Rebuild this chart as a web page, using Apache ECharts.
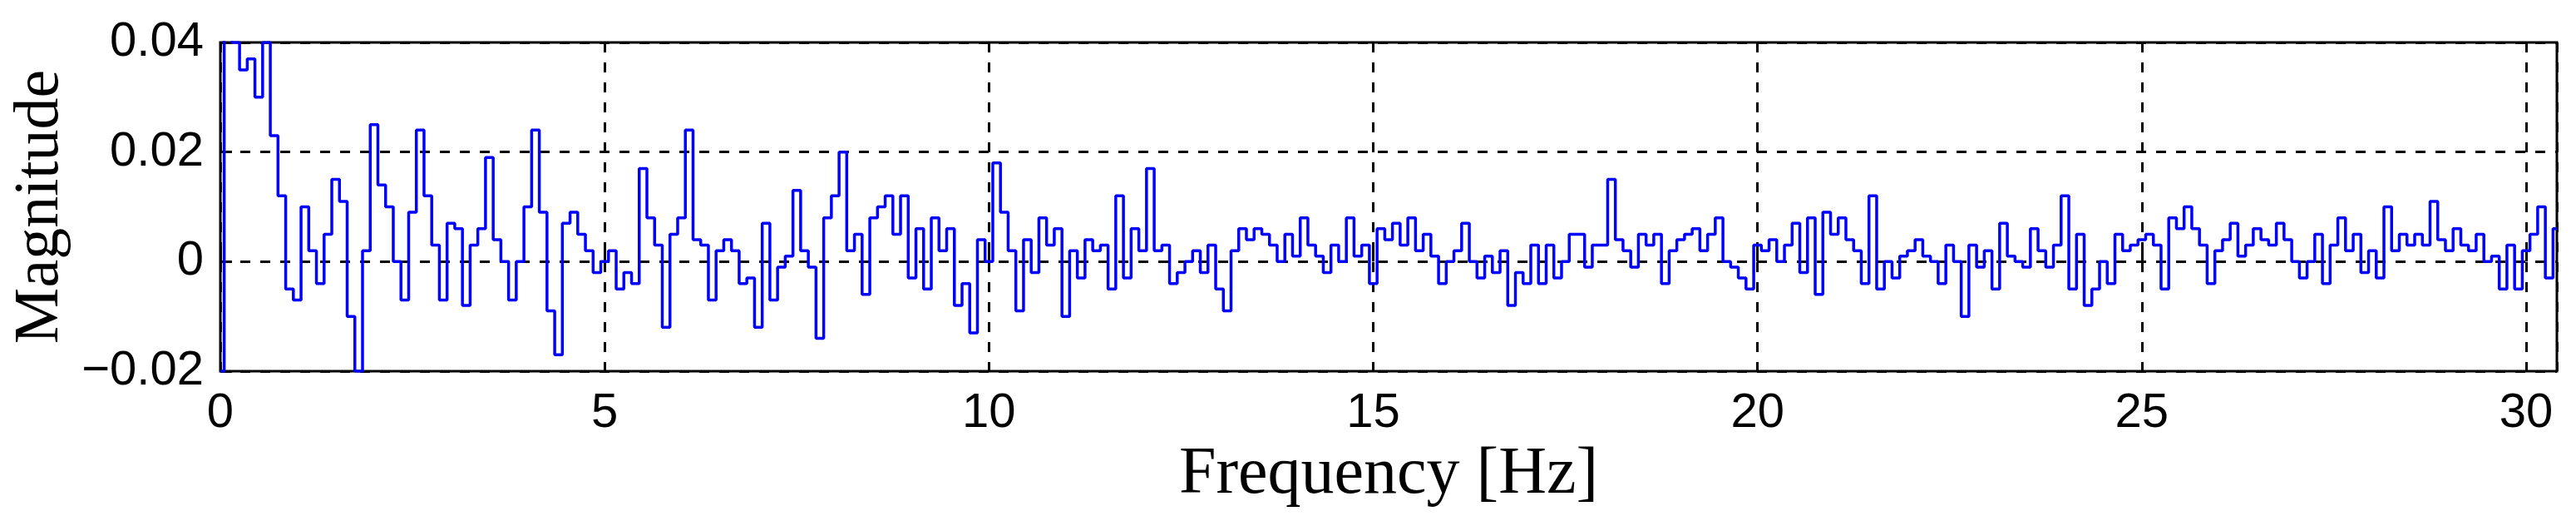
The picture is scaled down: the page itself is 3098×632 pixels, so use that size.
<!DOCTYPE html>
<html><head><meta charset="utf-8">
<script src="https://cdn.jsdelivr.net/npm/echarts@6/dist/echarts.min.js"></script>
<style>html,body{margin:0;padding:0;background:#fff}#c{width:3098px;height:632px}</style>
</head><body><div id="c"></div>
<script>
// magnitudes in units of 0.001, sampled every 0.1 Hz
const freqStep = 0.1;
const mag_0_5 = [-20,45,40,35,37,30,40,23,12,-5, -7,10,2,-4,5,15,11,-10,-20,2, 25,14,10,0,-7,9,24,12,3,-7, 7,6,-8,3,6,19,4,0,-7,0, 10,24,9,-9,-17,7,9,5,2,-2];
const mag_5_10 = [0,2,-5,-2,-4,17,8,3,-12,5, 8,24,4,3,-7,2,4,2,-4,-3, -12,7,-7,-1,1,13,2,-1,-14,8, 12,20,2,5,-6,8,10,12,5,12, -3,6,-5,8,2,6,-8,-4,-13,4];
const mag_10_15 = [0,18,9,2,-9,4,-2,8,3,6, -10,2,-3,4,2,3,-5,12,-3,6, 2,17,2,3,-4,-2,0,2,-2,3, -5,-9,2,6,4,6,5,3,0,5, 1,8,3,1,-2,3,0,8,1,3];
const mag_15_20 = [-4,6,4,7,3,8,2,5,1,-4, 0,2,7,0,-3,1,-2,2,-8,-2, -4,3,-4,3,-3,0,5,5,-1,3, 3,15,4,2,-1,5,3,5,-4,2, 4,5,6,2,5,8,0,-1,-3,-5];
const mag_20_25 = [3,2,4,0,3,7,-2,8,-6,9, 5,8,4,2,-4,12,-5,0,-3,1, 2,4,1,0,-4,3,0,-10,3,-1, 2,-5,7,1,0,-1,6,2,-1,3, 12,-5,5,-8,-5,0,-4,5,2,3];
const mag_25_305 = [4,5,3,-5,8,6,10,6,3,-4, 2,4,7,1,3,6,4,3,7,4, 0,-3,0,5,-4,3,8,2,5,-2, 2,-3,10,2,5,3,5,3,11,4, 2,6,3,2,5,0,1,-5,3,-5, 2,5,10,-3,6];
const xTicks = [0,5,10,15,20,25,30];
const yTicks = [-0.02,0,0.02,0.04];

const mags = [].concat(mag_0_5, mag_5_10, mag_10_15, mag_15_20, mag_20_25, mag_25_305);
const data = mags.map((v,i)=>[+(i*freqStep).toFixed(1), v/1000]);

const chart = echarts.init(document.getElementById('c'));
const tickFont = {fontFamily:'Liberation Sans', fontSize:58, color:'#000'};
chart.setOption({
  animation:false,
  grid:{left:265,right:23,top:51,bottom:186,show:true,borderColor:'#000',borderWidth:3,backgroundColor:'transparent'},
  xAxis:{type:'value',min:0,max:30.4,interval:5,
    name:'Frequency [Hz]',nameLocation:'middle',nameGap:112,
    nameTextStyle:{fontFamily:'Liberation Serif',fontSize:80,color:'#000',verticalAlign:'middle'},
    axisLine:{show:false},
    axisTick:{inside:true,length:14,lineStyle:{color:'#000',width:3}},
    axisLabel:{...tickFont,margin:22,showMaxLabel:false,formatter:v=>xTicks.includes(v)?String(v):''},
    splitLine:{show:true,lineStyle:{color:'#000',width:3,type:[12,12]}}},
  yAxis:{type:'value',min:-0.02,max:0.04,interval:0.02,
    name:'Magnitude',nameLocation:'middle',nameGap:208,nameRotate:90,
    nameTextStyle:{fontFamily:'Liberation Serif',fontSize:76,color:'#000',verticalAlign:'middle'},
    axisLine:{show:false},
    axisTick:{inside:true,length:14,lineStyle:{color:'#000',width:3}},
    axisLabel:{...tickFont,margin:20,formatter:v=>{const t=yTicks.find(k=>Math.abs(k-v)<1e-9);return t===undefined?'':(t===0?'0':t.toFixed(2).replace('-','\u2212'));}},
    splitLine:{show:true,lineStyle:{color:'#000',width:3,type:[12,12]}}},
  series:[{type:'line',data:data,step:'middle',showSymbol:false,clip:true,
    lineStyle:{color:'#0000ff',width:3.5}}]
});
</script></body></html>
